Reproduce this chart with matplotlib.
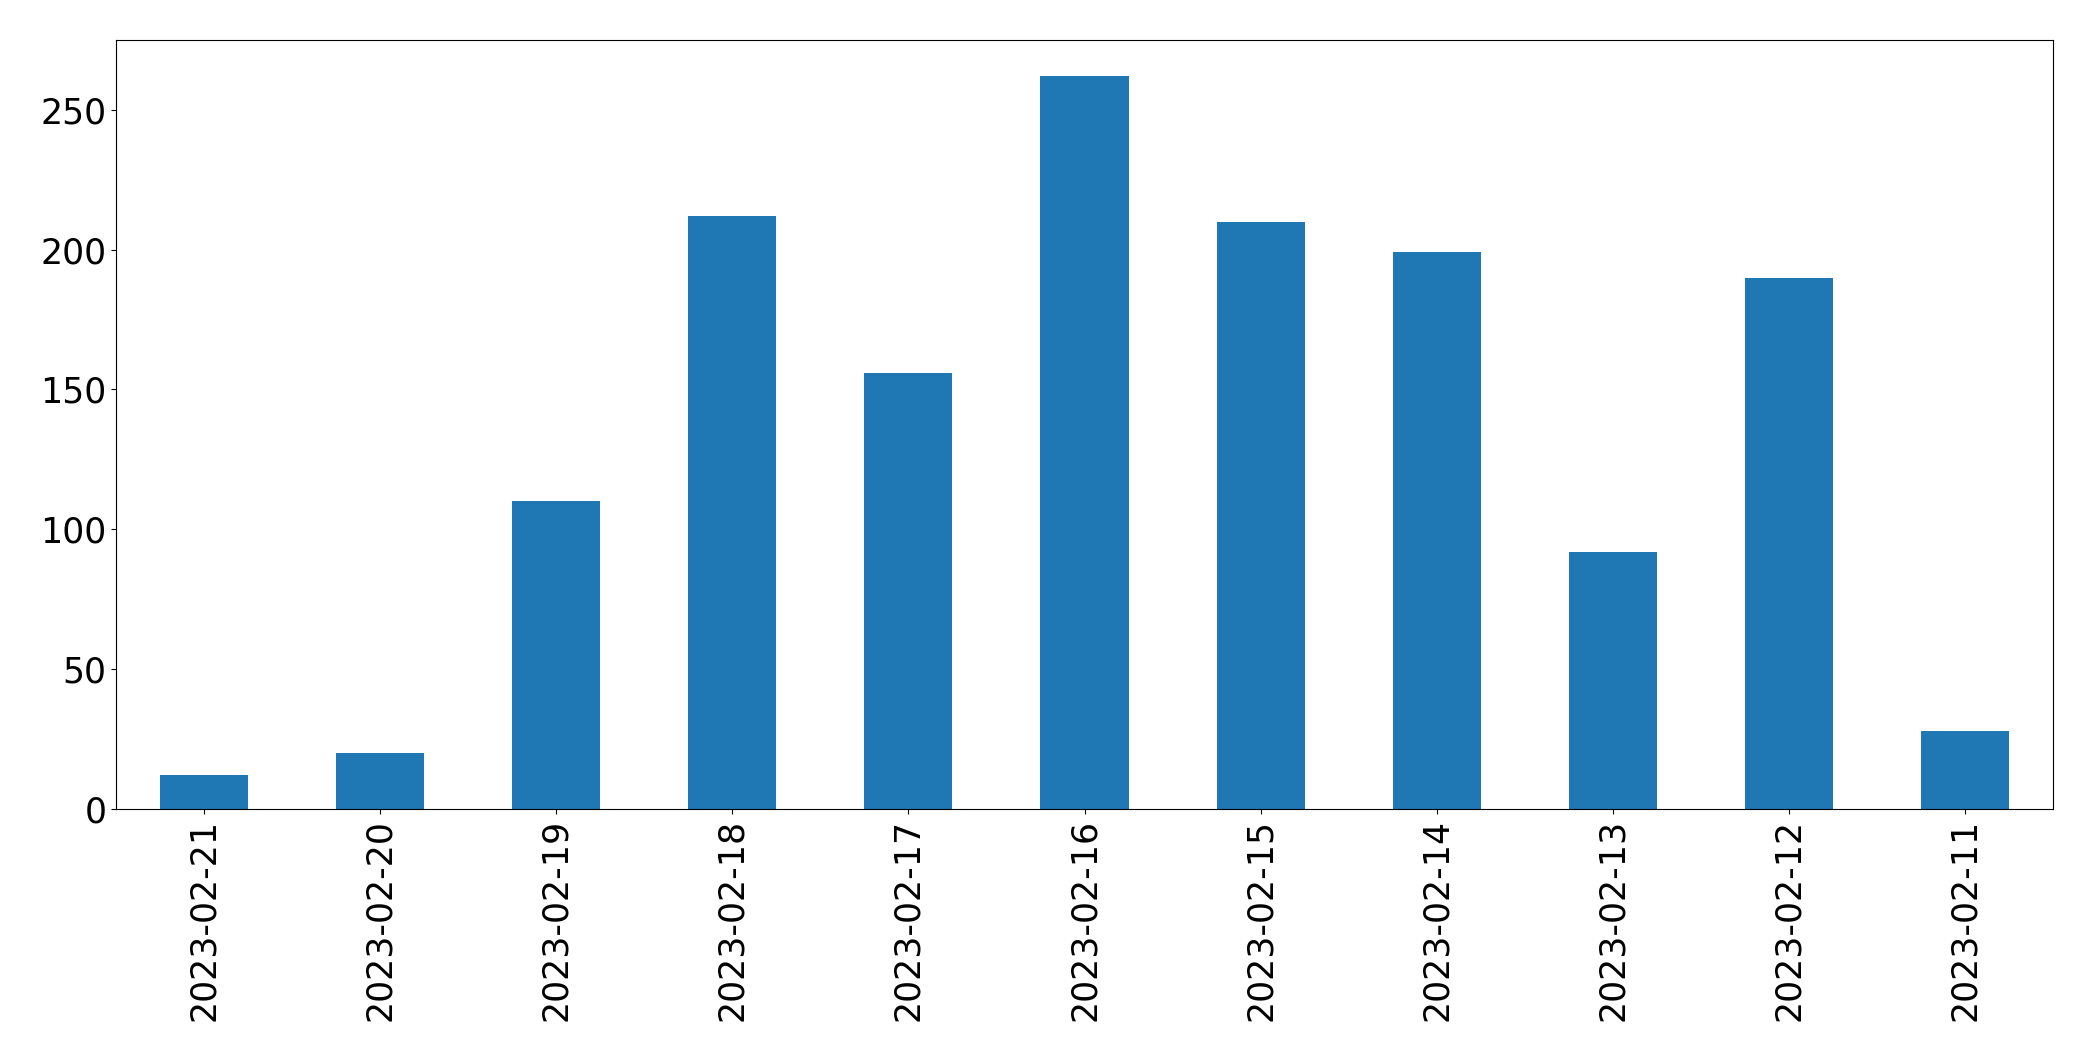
import matplotlib
matplotlib.use("Agg")
import matplotlib.pyplot as plt
import numpy as np

dates = ["2023-02-21", "2023-02-20", "2023-02-19", "2023-02-18", "2023-02-17", "2023-02-16",
         "2023-02-15", "2023-02-14", "2023-02-13", "2023-02-12", "2023-02-11"]
counts = [12, 20, 110, 212, 156, 262, 210, 199, 92, 190, 28]

fig, ax = plt.subplots(figsize=(20.93, 10.61), dpi=100)
fig.subplots_adjust(left=116/2093, right=2053/2093, top=1-39.5/1061, bottom=1-809/1061)

x = np.arange(len(dates))
ax.bar(x, counts, width=0.5, color="#1f77b4")
ax.set_xlim(-0.5, len(dates) - 0.5)
ax.set_xticks(x)
ax.set_xticklabels(dates, rotation=90)
ax.tick_params(labelsize=25)

fig.savefig("out.png", dpi=100)
